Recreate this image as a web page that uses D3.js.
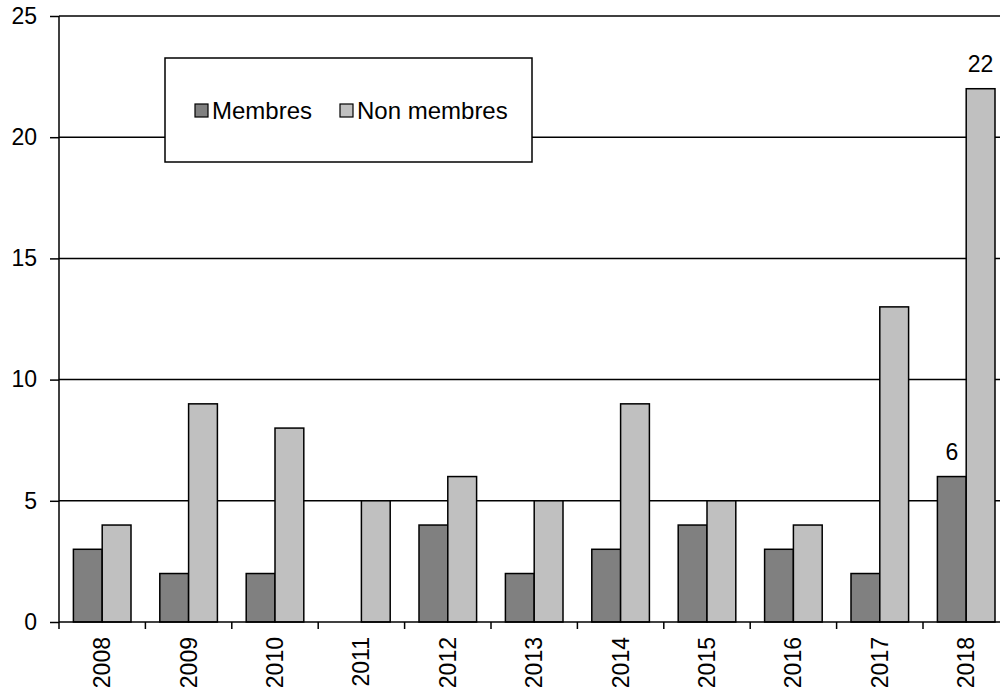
<!DOCTYPE html>
<html>
<head>
<meta charset="utf-8">
<script src="https://cdn.jsdelivr.net/npm/d3@7"></script>
<style>
  body { margin: 0; background: #fff; }
  svg { display: block; font-family: "Liberation Sans", Arial, sans-serif; }
</style>
</head>
<body>
<div id="chart"></div>
<script>
const years = ["2008", "2009", "2010", "2011", "2012", "2013", "2014", "2015", "2016", "2017", "2018"];
const membres = [3, 2, 2, 0, 4, 2, 3, 4, 3, 2, 6];
const nonMembres = [4, 9, 8, 5, 6, 5, 9, 5, 4, 13, 22];
const yTicks = [0, 5, 10, 15, 20, 25];
const seriesNames = ["Membres", "Non membres"];
const seriesColors = ["#808080", "#c0c0c0"];
// only the last year carries value labels in the original
const labelledYear = "2018";

const width = 1000;
const height = 692;
const plotLeft = 59, plotTop = 16, plotBottom = 622;
const band = 86.4;
const fontSize = "23px";

const svg = d3.select("#chart").append("svg")
    .attr("width", width)
    .attr("height", height);

const x = d3.scaleBand()
    .domain(years)
    .range([plotLeft, plotLeft + band * years.length])
    .paddingInner(0)
    .paddingOuter(0);

const xInner = d3.scaleBand()
    .domain(seriesNames)
    .range([0, band])
    .paddingOuter(0.5)
    .paddingInner(0);

const y = d3.scaleLinear()
    .domain([0, 25])
    .range([plotBottom, plotTop]);

// gridlines
svg.append("g")
    .selectAll("line")
    .data(yTicks.filter(d => d > 0))
    .enter()
    .append("line")
    .attr("x1", plotLeft)
    .attr("x2", width)
    .attr("y1", d => y(d))
    .attr("y2", d => y(d))
    .attr("stroke", "#000")
    .attr("stroke-width", 1.5);

// bars
const rows = years.map((yr, i) => ({ year: yr, values: [membres[i], nonMembres[i]] }));

const groups = svg.append("g")
    .selectAll("g")
    .data(rows)
    .enter()
    .append("g")
    .attr("transform", d => `translate(${x(d.year)},0)`);

groups.selectAll("rect")
    .data(d => d.values.map((v, j) => ({ name: seriesNames[j], value: v, color: seriesColors[j] })).filter(e => e.value > 0))
    .enter()
    .append("rect")
    .attr("x", d => xInner(d.name))
    .attr("width", xInner.bandwidth())
    .attr("y", d => y(d.value))
    .attr("height", d => y(0) - y(d.value))
    .attr("fill", d => d.color)
    .attr("stroke", "#000")
    .attr("stroke-width", 1.5);

groups.filter(d => d.year === labelledYear)
    .selectAll("text")
    .data(d => d.values.map((v, j) => ({ name: seriesNames[j], value: v })))
    .enter()
    .append("text")
    .attr("x", d => xInner(d.name) + xInner.bandwidth() / 2)
    .attr("y", d => y(d.value) - 17)
    .attr("text-anchor", "middle")
    .attr("font-size", fontSize)
    .text(d => d.value);

// y axis
const yAxis = svg.append("g")
    .attr("transform", `translate(${plotLeft},0)`)
    .call(d3.axisLeft(y).tickValues(yTicks).tickSize(9).tickPadding(13));
yAxis.select(".domain").attr("stroke-width", 1.5).attr("d", `M-0,${plotTop}V${plotBottom}`);
yAxis.selectAll(".tick line").attr("stroke-width", 1.5);
yAxis.selectAll("text").attr("font-size", fontSize).attr("font-family", "Liberation Sans, Arial, sans-serif").attr("fill", "#000");

// x axis: ticks on category boundaries
svg.append("line")
    .attr("x1", plotLeft)
    .attr("x2", width)
    .attr("y1", plotBottom)
    .attr("y2", plotBottom)
    .attr("stroke", "#000")
    .attr("stroke-width", 1.5);

svg.append("g")
    .selectAll("line")
    .data(years)
    .enter()
    .append("line")
    .attr("x1", d => x(d))
    .attr("x2", d => x(d))
    .attr("y1", plotBottom)
    .attr("y2", plotBottom + 7)
    .attr("stroke", "#000")
    .attr("stroke-width", 1.5);

svg.append("g")
    .selectAll("text")
    .data(years)
    .enter()
    .append("text")
    .attr("transform", d => `translate(${x(d) + x.bandwidth() / 2},${plotBottom + 15}) rotate(-90)`)
    .attr("text-anchor", "end")
    .attr("dy", "0.35em")
    .attr("font-size", fontSize)
    .text(d => d);

// legend
const legend = svg.append("g").attr("transform", "translate(165,58)");
legend.append("rect")
    .attr("width", 367)
    .attr("height", 104)
    .attr("fill", "#fff")
    .attr("stroke", "#000")
    .attr("stroke-width", 1.5);

const legendX = [30, 175];
seriesNames.forEach((name, i) => {
    const item = legend.append("g").attr("transform", `translate(${legendX[i]},46)`);
    item.append("rect")
        .attr("width", 13)
        .attr("height", 13)
        .attr("fill", seriesColors[i])
        .attr("stroke", "#000")
        .attr("stroke-width", 1.2);
    item.append("text")
        .attr("x", 17)
        .attr("y", 6.5)
        .attr("dy", "0.35em")
        .attr("font-size", "24px")
        .text(name);
});
</script>
</body>
</html>
